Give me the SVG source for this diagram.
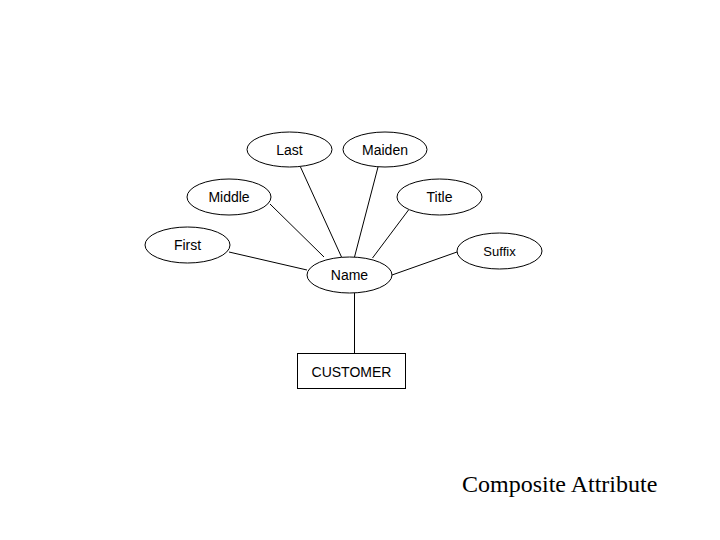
<svg xmlns="http://www.w3.org/2000/svg" width="720" height="540" viewBox="0 0 720 540">
<style>
.n{fill:#fff;stroke:#000;stroke-width:1}
.t{font-family:"Liberation Sans",Arial,sans-serif;font-size:14px;fill:#000;text-anchor:middle}
.c line{stroke:#000;stroke-width:1}
</style>
<rect width="720" height="540" fill="#fff"/>
<g class="c" id="connectors">
<line x1="229" y1="252" x2="307" y2="270"/>
<line x1="270" y1="204" x2="324" y2="257"/>
<line x1="300.5" y1="167" x2="341.5" y2="257"/>
<line x1="378" y1="167" x2="354.5" y2="257"/>
<line x1="408.5" y1="210" x2="372.5" y2="258"/>
<line x1="457" y1="252" x2="392" y2="275"/>
<line x1="354.5" y1="293" x2="354.5" y2="353"/>
</g>
<g id="last"><ellipse class="n" cx="289.5" cy="149.5" rx="42.5" ry="17.5"/><text class="t" x="289.5" y="154.5">Last</text></g>
<g id="maiden"><ellipse class="n" cx="385" cy="149.5" rx="42" ry="17.5"/><text class="t" x="385" y="154.5">Maiden</text></g>
<g id="middle"><ellipse class="n" cx="229" cy="197" rx="42" ry="18"/><text class="t" x="229" y="202">Middle</text></g>
<g id="title"><ellipse class="n" cx="439.5" cy="197" rx="42.5" ry="18"/><text class="t" x="439.5" y="202">Title</text></g>
<g id="first"><ellipse class="n" cx="187.5" cy="245" rx="42.5" ry="18"/><text class="t" x="187.5" y="250">First</text></g>
<g id="suffix"><ellipse class="n" cx="499.5" cy="251" rx="42.5" ry="18"/><text class="t" x="499.5" y="256" style="font-size:13px">Suffix</text></g>
<g id="name"><ellipse class="n" cx="349.5" cy="275" rx="42.5" ry="18"/><text class="t" x="349.5" y="280">Name</text></g>
<g id="customer"><rect class="n" x="297.5" y="353.5" width="108" height="35"/><text class="t" x="351.5" y="376.5">CUSTOMER</text></g>
<text x="462" y="492" style="font-family:'Liberation Serif','Times New Roman',serif;font-size:24px;fill:#000">Composite Attribute</text>
</svg>
